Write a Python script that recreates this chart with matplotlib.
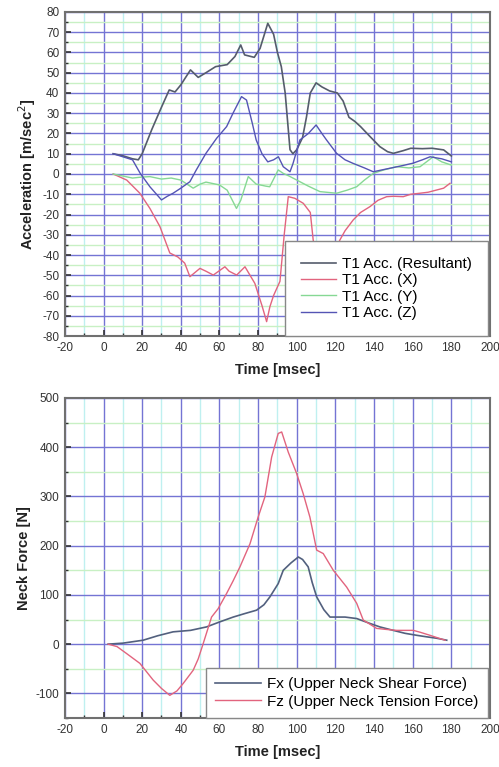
import matplotlib
matplotlib.use("Agg")
import matplotlib.pyplot as plt
from matplotlib.ticker import MultipleLocator

plt.rcParams['font.family'] = ['Liberation Sans', 'DejaVu Sans']
plt.rcParams['axes.unicode_minus'] = False

# ---- Top panel data (T1 acceleration) ----
t_res = [5, 10, 15, 18, 20, 25, 30, 34, 37, 40, 45, 49, 53, 58, 64, 68, 71, 73, 78, 81, 85, 88, 90,
         92, 94, 96.5, 98, 100, 103, 105, 107, 110, 113, 117, 121, 124, 127, 130, 133, 138, 143, 147,
         150, 155, 159, 165, 170, 176, 180]
v_res = [10, 9, 7.5, 7, 10, 22, 33, 41.5, 40.5, 44, 51.4, 47.7, 50, 53, 54, 58, 63.7, 58.8, 57.6, 62,
         74.4, 69, 60, 53, 40, 12, 10, 12, 18, 28, 40, 45, 43, 41, 40, 36, 28, 26, 23.4, 18.4, 13.5, 11,
         10.2, 11.5, 12.7, 12.5, 12.7, 11.9, 8.9]

t_x = [5, 12, 18.8, 24, 29.2, 34.3, 38.5, 42, 44.7, 49.9, 53, 56.8, 62.8, 65, 68.9, 73.2, 78.3, 82,
       84.4, 86.1, 88, 91.3, 93.5, 95.6, 99, 103.4, 107, 108.5, 111, 114, 118, 122.3, 125, 129.2, 133,
       137.9, 142, 146.5, 150, 155.1, 159, 163.7, 168, 172.4, 176, 179.3]
v_x = [0, -3, -9.5, -17, -26, -39, -41, -44, -50.7, -46.6, -48, -49.9, -45.8, -48, -49.9, -45.8, -54,
       -65, -72.9, -65.5, -60, -53, -30, -11.2, -12, -14.5, -19, -32.6, -45, -50, -42, -32.6, -28,
       -22.7, -19, -16.1, -13, -11.2, -11, -11.2, -10, -9.5, -9, -7.9, -7, -4.6]

t_y = [5, 10, 15, 20, 24, 30, 35, 40, 46.4, 50, 53, 60, 64, 68.8, 71, 74.9, 79, 84, 86, 90.4, 93, 96,
       100, 106, 112, 120.6, 126, 131, 135, 139.6, 145, 151.7, 158, 163.8, 170.6, 175, 180]
v_y = [0, -1, -2, -1.5, -1.3, -2.5, -2, -3, -7, -5, -4, -5.4, -8, -17, -13, -1.3, -5, -6, -6.3, 2, 0.3,
       -1, -3, -6, -8.7, -9.5, -8, -6.3, -3, 0.3, 2, 3.6, 3, 3.6, 8.5, 6, 4.4]

t_z = [5, 10, 15, 19, 24, 30, 33, 36, 40, 44.7, 48, 53, 58.5, 63.7, 67, 71.4, 74, 77, 79, 82, 85, 88,
       90.5, 93, 96.5, 98, 101.6, 106, 110, 113, 115.4, 120.6, 125, 129, 135, 139.6, 144, 148, 154,
       160, 165, 169, 175, 180]
v_z = [10, 8.5, 7, 0.3, -6.3, -12.8, -11, -9.5, -7, -3.8, 2, 10.2, 17.6, 23.4, 30, 38.2, 36.5, 25,
       16.8, 10, 6, 7, 8.5, 3.6, 1.1, 5, 16.8, 20, 24.2, 20, 16.8, 10.2, 7, 5.3, 3, 1.1, 2, 2.8, 4,
       5.3, 7, 8.5, 7.5, 6]

top_labels = ['T1 Acc. (Resultant)', 'T1 Acc. (X)', 'T1 Acc. (Y)', 'T1 Acc. (Z)']

# ---- Bottom panel data (neck force) ----
t_fx = [2.4, 10, 20.5, 28, 36, 45, 53.3, 60, 67.1, 73, 79.2, 83, 86.1, 90.4, 93, 97, 100.8, 103,
        105.9, 108, 110.3, 114, 117.2, 125, 131, 137.9, 143, 149.9, 156, 162, 167, 172.4, 177.6]
v_fx = [0, 2, 8, 17, 25, 28, 35, 45, 55, 62, 69, 80, 96, 123, 150, 165, 177, 172, 157, 125, 96, 70,
        55, 55, 52, 42, 35, 28, 22, 18, 15, 12, 8]

t_fz = [2.4, 7, 11.9, 18.8, 25.7, 30, 34.3, 38, 41.2, 46.4, 49, 51.6, 55.9, 59.3, 63.7, 67, 70.6,
        75.8, 80, 83.5, 87, 90.4, 92.2, 95.6, 99.9, 103.3, 106.8, 110.3, 113.7, 118.9, 125.8, 131,
        134.4, 141.3, 146, 151.7, 156, 160.3, 164, 168.9, 176.7]
v_fz = [0, -5, -19, -39, -73, -90, -104, -95, -80, -53, -30, 1.4, 55, 72, 103, 128, 157, 204, 258,
        299, 380, 428, 431, 390, 347, 306, 258, 191, 184, 150, 116, 83, 49, 32, 30, 28, 28, 28, 24,
        18, 8]

bottom_labels = ['Fx (Upper Neck Shear Force)', 'Fz (Upper Neck Tension Force)']

# ---- styling ----
c_res = '#555c6c'
c_x = '#e2647e'
c_y = '#86d894'
c_z = '#5454b4'
c_fx = '#52607e'
c_fz = '#e2647e'
major_grid = '#7474d4'
minor_grid_x = '#bff0f0'
minor_grid_y = '#c8f0c4'
spine_c = '#707070'

fig = plt.figure(figsize=(4.99, 7.67), dpi=100)
ax1 = fig.add_axes([0.130, 0.5619, 0.852, 0.4225])
ax2 = fig.add_axes([0.130, 0.0639, 0.852, 0.4172])


def style(ax, ymaj, ymin):
    ax.set_xlim(-20, 200)
    ax.xaxis.set_major_locator(MultipleLocator(20))
    ax.xaxis.set_minor_locator(MultipleLocator(10))
    ax.yaxis.set_major_locator(MultipleLocator(ymaj))
    ax.yaxis.set_minor_locator(MultipleLocator(ymin))
    ax.grid(which='minor', axis='x', color=minor_grid_x, lw=1.0, zorder=0)
    ax.grid(which='minor', axis='y', color=minor_grid_y, lw=1.0, zorder=0)
    ax.grid(which='major', color=major_grid, lw=1.0, zorder=0.5)
    ax.set_axisbelow(True)
    for s in ax.spines.values():
        s.set_color(spine_c)
        s.set_linewidth(1.5)
    ax.tick_params(which='major', direction='in', length=4, width=1.2, color='#333333',
                   labelsize=8.5, labelcolor='#333333', pad=4)
    ax.tick_params(which='minor', direction='in', length=2.5, width=1, color='#333333')


leg_kw = dict(loc='lower right', bbox_to_anchor=(0.995, 0.0), fontsize=11, frameon=True,
              fancybox=False, edgecolor='#888888', framealpha=1,
              handletextpad=0.4, borderaxespad=0.0)

style(ax1, 10, 5)
ax1.set_ylim(-80, 80)
ax1.plot(t_res, v_res, color=c_res, lw=1.2, label=top_labels[0], zorder=3)
ax1.plot(t_x, v_x, color=c_x, lw=1.0, label=top_labels[1], zorder=3)
ax1.plot(t_y, v_y, color=c_y, lw=1.0, label=top_labels[2], zorder=3)
ax1.plot(t_z, v_z, color=c_z, lw=1.0, label=top_labels[3], zorder=3)
ax1.set_xlabel('Time [msec]', fontsize=10.5, fontweight='bold', color='#222222', labelpad=7)
ax1.set_ylabel('Acceleration [m/sec$^2$]', fontsize=10.5, fontweight='bold', color='#222222', labelpad=3)
leg1 = ax1.legend(labelspacing=0.15, borderpad=1.05, handlelength=2.3, **leg_kw)
leg1.get_frame().set_linewidth(1.0)
leg1.set_zorder(5)

style(ax2, 100, 50)
ax2.set_ylim(-150, 500)
ax2.plot(t_fx, v_fx, color=c_fx, lw=1.2, label=bottom_labels[0], zorder=3)
ax2.plot(t_fz, v_fz, color=c_fz, lw=1.0, label=bottom_labels[1], zorder=3)
ax2.set_xlabel('Time [msec]', fontsize=10.5, fontweight='bold', color='#222222', labelpad=7)
ax2.set_ylabel('Neck Force [N]', fontsize=10.5, fontweight='bold', color='#222222', labelpad=3)
leg2 = ax2.legend(labelspacing=0.25, borderpad=0.6, handlelength=3.0, **leg_kw)
leg2.get_frame().set_linewidth(1.0)
leg2.set_zorder(5)

fig.savefig('out.png', dpi=100)
